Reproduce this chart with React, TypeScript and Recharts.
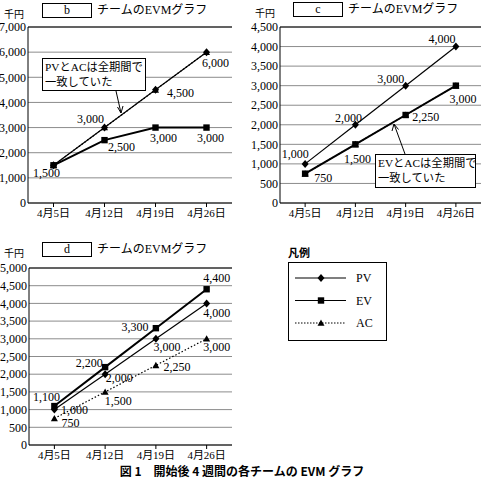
import { CartesianGrid, LabelList, Line, LineChart, ReferenceLine, XAxis, YAxis } from 'recharts';

const DATES = ['4月5日', '4月12日', '4月19日', '4月26日'];

const B_PV = [1500, 3000, 4500, 6000];
const B_EV = [1500, 2500, 3000, 3000];
const B_AC = [1500, 3000, 4500, 6000];

const C_PV = [1000, 2000, 3000, 4000];
const C_EV = [750, 1500, 2250, 3000];
const C_AC = [750, 1500, 2250, 3000];

const D_PV = [1000, 2000, 3000, 4000];
const D_EV = [1100, 2200, 3300, 4400];
const D_AC = [750, 1500, 2250, 3000];

const B_TICKS = [0, 1000, 2000, 3000, 4000, 5000, 6000, 7000];
const C_TICKS = [0, 500, 1000, 1500, 2000, 2500, 3000, 3500, 4000, 4500];
const D_TICKS = [0, 500, 1000, 1500, 2000, 2500, 3000, 3500, 4000, 4500, 5000];

const SERIF = "'Liberation Serif', 'Noto Sans CJK JP', serif";
const GOTHIC = "'Noto Sans CJK JP', sans-serif";

// label offsets from the point, px (null = no label)
type Off = [number, number] | null;
const NONE: Off[] = [null, null, null, null];
const B_OFF = {
  pv: [[-7, 8], [-14, -9], [25, 3], [9, 11]] as Off[],
  ev: [null, [17, 7], [8, 10], [4, 10]] as Off[],
  ac: NONE,
};
const C_OFF = {
  pv: [[-10, -10], [-7, -7], [-15, -7], [-14, -8]] as Off[],
  ev: [[18, 4], [2, 15], [20, 2], [7, 13]] as Off[],
  ac: NONE,
};
const D_OFF = {
  pv: [[20, 0], [14, 4], [11, 8], [10, 10]] as Off[],
  ev: [[-8, -9], [-16, -4], [-21, -1], [10, -11]] as Off[],
  ac: [[16, 5], [13, 9], [21, 2], [10, 8]] as Off[],
};

const diamond = (cx: number, cy: number) =>
  `M${cx},${cy - 4}L${cx + 3.5},${cy}L${cx},${cy + 4}L${cx - 3.5},${cy}Z`;
const triangle = (cx: number, cy: number) =>
  `M${cx},${cy - 3.5}L${cx + 3.5},${cy + 2.8}L${cx - 3.5},${cy + 2.8}Z`;

const pvDot = (p: any) => <path key={`pv-${p.index}`} d={diamond(p.cx, p.cy)} fill="#000" />;
const evDot = (p: any) => (
  <rect key={`ev-${p.index}`} x={p.cx - 3.2} y={p.cy - 3.2} width={6.4} height={6.4} fill="#000" />
);
const acDot = (p: any) => <path key={`ac-${p.index}`} d={triangle(p.cx, p.cy)} fill="#000" />;

const makeLabel = (offs: Off[]) => (props: any) => {
  const o = offs[props.index];
  if (!o) return null;
  const x = props.viewBox?.x ?? props.x;
  const y = props.viewBox?.y ?? props.y;
  return (
    <text
      x={x + o[0]}
      y={y + o[1]}
      textAnchor="middle"
      dominantBaseline="central"
      fontSize={12}
      fontFamily={SERIF}
      fill="#000"
    >
      {Number(props.value).toLocaleString('en-US')}
    </text>
  );
};

interface EvmChartProps {
  pv: number[];
  ev: number[];
  ac: number[];
  ticks: number[];
  offs: { pv: Off[]; ev: Off[]; ac: Off[] };
  width: number;
  height: number;
  margin: { top: number; right: number; bottom: number; left: number };
  yWidth: number;
}

function EvmChart({ pv, ev, ac, ticks, offs, width, height, margin, yWidth }: EvmChartProps) {
  const data = DATES.map((date, i) => ({ date, pv: pv[i], ev: ev[i], ac: ac[i] }));
  const max = ticks[ticks.length - 1];
  // points sit in the middle of equal bands
  const pad = (width - margin.left - margin.right - yWidth) / (DATES.length * 2);
  return (
    <LineChart width={width} height={height} data={data} margin={margin} style={{ overflow: 'visible' }}>
      <CartesianGrid vertical={false} stroke="#8c8c8c" />
      <XAxis
        dataKey="date"
        height={20}
        interval={0}
        padding={{ left: pad, right: pad }}
        tickSize={4}
        tickMargin={2}
        tick={{ fontSize: 11, fontFamily: SERIF, fill: '#000' }}
        tickLine={{ stroke: '#000' }}
        axisLine={{ stroke: '#000' }}
      />
      <YAxis
        type="number"
        width={yWidth}
        domain={[0, max]}
        ticks={ticks}
        interval={0}
        tickSize={0}
        tickMargin={2}
        tickLine={false}
        tickFormatter={(v: number) => v.toLocaleString('en-US')}
        tick={{ fontSize: 12, fontFamily: SERIF, fill: '#000' }}
        axisLine={{ stroke: '#000' }}
      />
      <YAxis
        yAxisId="frame"
        orientation="right"
        type="number"
        width={0}
        domain={[0, max]}
        tick={false}
        tickLine={false}
        axisLine={{ stroke: '#000' }}
      />
      <ReferenceLine y={max} stroke="#000" strokeWidth={1} />
      <Line
        dataKey="ac"
        stroke="#000"
        strokeWidth={1.2}
        strokeDasharray="1.5 2"
        dot={acDot}
        isAnimationActive={false}
      >
        <LabelList dataKey="ac" content={makeLabel(offs.ac)} />
      </Line>
      <Line dataKey="ev" stroke="#000" strokeWidth={2} dot={evDot} isAnimationActive={false}>
        <LabelList dataKey="ev" content={makeLabel(offs.ev)} />
      </Line>
      <Line dataKey="pv" stroke="#000" strokeWidth={1.2} dot={pvDot} isAnimationActive={false}>
        <LabelList dataKey="pv" content={makeLabel(offs.pv)} />
      </Line>
    </LineChart>
  );
}

const abs = (left: number, top: number, extra: any = {}) => ({
  position: 'absolute' as const,
  left,
  top,
  whiteSpace: 'nowrap' as const,
  ...extra,
});

function Header({ x, y, letter }: { x: number; y: number; letter: string }) {
  return (
    <>
      <div style={abs(x - 38, y + 5, { fontSize: 10, lineHeight: '12px', fontFamily: GOTHIC })}>千円</div>
      <div
        style={abs(x, y, {
          width: 50,
          height: 15,
          boxSizing: 'border-box',
          border: '1px solid #000',
          textAlign: 'center',
          fontSize: 12,
          lineHeight: '13px',
          fontFamily: SERIF,
        })}
      >
        {letter}
      </div>
      <div style={abs(x + 55, y + 1, { fontSize: 12, lineHeight: '13px', fontFamily: SERIF })}>
        チームのEVMグラフ
      </div>
    </>
  );
}

const noteStyle = (left: number, top: number, width: number, height: number) =>
  abs(left, top, {
    width,
    height,
    boxSizing: 'border-box',
    border: '1.5px solid #000',
    background: '#fff',
    padding: '1px 1px 1px 2px',
    fontSize: 11.3,
    lineHeight: '15px',
    fontFamily: SERIF,
  });

const LEGEND_ITEMS = ['PV', 'EV', 'AC'];

export default function App() {
  return (
    <div
      style={{
        position: 'absolute',
        left: 0,
        top: 0,
        width: 484,
        height: 483,
        background: '#fff',
        overflow: 'hidden',
        color: '#000',
      }}
    >
      <div style={abs(0, 0)}>
        <EvmChart
          pv={B_PV}
          ev={B_EV}
          ac={B_AC}
          ticks={B_TICKS}
          offs={B_OFF}
          width={242}
          height={230}
          margin={{ top: 27, right: 10, bottom: 7, left: 0 }}
          yWidth={28}
        />
      </div>
      <div style={abs(242, 0)}>
        <EvmChart
          pv={C_PV}
          ev={C_EV}
          ac={C_AC}
          ticks={C_TICKS}
          offs={C_OFF}
          width={242}
          height={230}
          margin={{ top: 27, right: 3, bottom: 7, left: 0 }}
          yWidth={38}
        />
      </div>
      <div style={abs(0, 230)}>
        <EvmChart
          pv={D_PV}
          ev={D_EV}
          ac={D_AC}
          ticks={D_TICKS}
          offs={D_OFF}
          width={242}
          height={240}
          margin={{ top: 38, right: 10, bottom: 5, left: 0 }}
          yWidth={29}
        />
      </div>

      <Header x={42} y={3} letter="b" />
      <Header x={293} y={2} letter="c" />
      <Header x={42} y={242} letter="d" />

      <div style={noteStyle(42, 58, 104, 33)}>
        PVとACは全期間で
        <br />
        一致していた
      </div>
      <div style={noteStyle(375, 154, 101, 34)}>
        EVとACは全期間で
        <br />
        一致していた
      </div>

      <svg width={484} height={483} style={abs(0, 0, { pointerEvents: 'none' })}>
        <line x1={116} y1={91} x2={121} y2={113} stroke="#000" strokeWidth={1} />
        <path d="M117.5,107L121,113L123,106" fill="none" stroke="#000" strokeWidth={1} />
        <line x1={405} y1={154} x2={394} y2={124} stroke="#000" strokeWidth={1} />
        <path d="M392,131L394,124L398.5,129.5" fill="none" stroke="#000" strokeWidth={1} />
      </svg>

      <div style={abs(288, 246, { fontSize: 11, lineHeight: '13px', fontFamily: GOTHIC, fontWeight: 700 })}>
        凡例
      </div>
      <div
        style={abs(288, 262, {
          width: 99,
          height: 79,
          boxSizing: 'border-box',
          border: '1.5px solid #000',
        })}
      >
        <svg width={96} height={76} style={abs(0, 0)}>
          {LEGEND_ITEMS.map((name, i) => {
            const y = 15 + i * 22.5;
            return (
              <g key={name}>
                <line
                  x1={6}
                  x2={57}
                  y1={y}
                  y2={y}
                  stroke="#000"
                  strokeWidth={name === 'AC' ? 1 : 1.2}
                  strokeDasharray={name === 'AC' ? '1.5 1.5' : undefined}
                />
                {name === 'PV' && pvDot({ cx: 32, cy: y, index: 'l' })}
                {name === 'EV' && evDot({ cx: 32, cy: y, index: 'l' })}
                {name === 'AC' && acDot({ cx: 32, cy: y, index: 'l' })}
                <text x={67} y={y} dominantBaseline="central" fontSize={12} fontFamily={SERIF} fill="#000">
                  {name}
                </text>
              </g>
            );
          })}
        </svg>
      </div>

      <div
        style={abs(0, 463, {
          width: 484,
          textAlign: 'center',
          fontSize: 12,
          lineHeight: '15px',
          fontWeight: 700,
          fontFamily: GOTHIC,
        })}
      >
        図 1　開始後 4 週間の各チームの EVM グラフ
      </div>
    </div>
  );
}
